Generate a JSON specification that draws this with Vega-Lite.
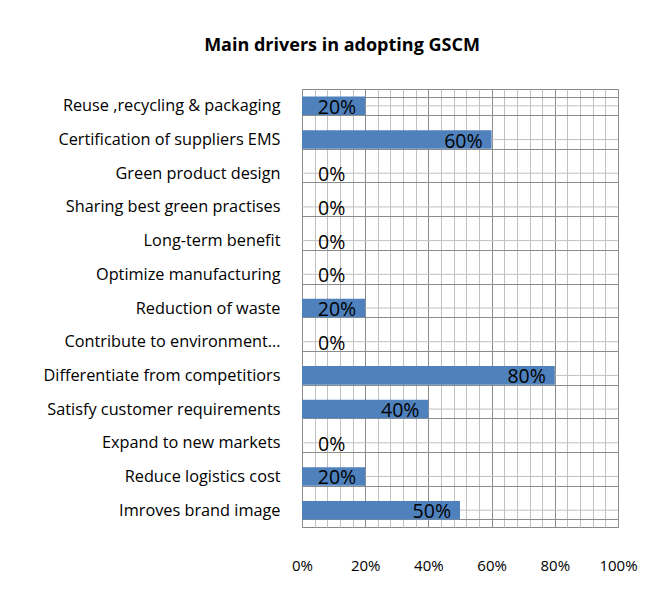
{
  "$schema": "https://vega.github.io/schema/vega-lite/v6.json",
  "autosize": "none",
  "width": 316,
  "height": 438,
  "padding": {"left": 302, "top": 89, "right": 54, "bottom": 70},
  "background": "white",
  "title": {
    "text": "Main drivers in adopting GSCM",
    "font": "Open Sans",
    "fontSize": 18,
    "fontWeight": "bold",
    "color": "#000000",
    "anchor": "middle",
    "dx": -118,
    "offset": 26
  },
  "data": {
    "values": [
      {"driver": "Reuse ,recycling & packaging", "value": 0.2},
      {"driver": "Certification of suppliers EMS", "value": 0.6},
      {"driver": "Green product design", "value": 0},
      {"driver": "Sharing best green practises", "value": 0},
      {"driver": "Long-term benefit", "value": 0},
      {"driver": "Optimize manufacturing", "value": 0},
      {"driver": "Reduction of waste", "value": 0.2},
      {"driver": "Contribute to environment…", "value": 0},
      {"driver": "Differentiate from competitiors", "value": 0.8},
      {"driver": "Satisfy customer requirements", "value": 0.4},
      {"driver": "Expand to new markets", "value": 0},
      {"driver": "Reduce logistics cost", "value": 0.2},
      {"driver": "Imroves brand image", "value": 0.5}
    ]
  },
  "config": {
    "view": {"stroke": "#888888", "strokeWidth": 1},
    "font": "Open Sans"
  },
  "resolve": {"axis": {"x": "independent"}},
  "encoding": {
    "y": {
      "field": "driver",
      "type": "nominal",
      "sort": null,
      "scale": {"paddingInner": 0.45, "paddingOuter": 0.225},
      "axis": {
        "title": null,
        "ticks": false,
        "domain": false,
        "tickBand": "extent",
        "grid": true,
        "gridColor": "#8c8c8c",
        "gridWidth": 1,
        "labelFont": "Open Sans",
        "labelFontSize": 16.3,
        "labelColor": "#000000",
        "labelPadding": 22,
        "labelLimit": 320
      }
    }
  },
  "layer": [
    {
      "mark": {"type": "rule", "color": "#c0c0c0", "strokeWidth": 1},
      "encoding": {
        "x": {
          "datum": 0,
          "type": "quantitative",
          "scale": {"domain": [0, 1], "nice": false},
          "axis": {
            "orient": "bottom",
            "title": null,
            "values": [0.04,0.08,0.12,0.16,0.24,0.28,0.32,0.36,0.44,0.48,0.52,0.56,0.64,0.68,0.72,0.76,0.84,0.88,0.92,0.96],
            "labels": false,
            "ticks": false,
            "domain": false,
            "grid": true,
            "gridColor": "#c0c0c0",
            "zindex": 0
          }
        },
        "x2": {"datum": 1}
      }
    },
    {
      "mark": {"type": "bar", "color": "#4f81bd"},
      "encoding": {
        "x": {
          "field": "value",
          "type": "quantitative",
          "scale": {"domain": [0, 1], "nice": false},
          "axis": {
            "orient": "bottom",
            "title": null,
            "values": [0, 0.2, 0.4, 0.6, 0.8, 1],
            "format": ".0%",
            "ticks": false,
            "domain": false,
            "grid": true,
            "gridColor": "#8c8c8c",
            "labelFont": "Open Sans",
            "labelFontSize": 15,
            "labelColor": "#000000",
            "labelPadding": 31,
            "labelFlush": false,
            "labelOverlap": false,
            "zindex": 0
          }
        }
      }
    },
    {
      "transform": [{"filter": "datum.value > 0"}],
      "mark": {"type": "text", "align": "right", "baseline": "middle", "dx": -9, "dy": 2, "fontSize": 19.5, "font": "Open Sans", "color": "#000000"},
      "encoding": {
        "x": {"field": "value", "type": "quantitative", "axis": null},
        "text": {"field": "value", "type": "quantitative", "format": ".0%"}
      }
    },
    {
      "transform": [{"filter": "datum.value === 0"}],
      "mark": {"type": "text", "align": "left", "baseline": "middle", "dx": 16, "dy": 2, "fontSize": 19.5, "font": "Open Sans", "color": "#000000"},
      "encoding": {
        "x": {"field": "value", "type": "quantitative", "axis": null},
        "text": {"field": "value", "type": "quantitative", "format": ".0%"}
      }
    }
  ]
}
